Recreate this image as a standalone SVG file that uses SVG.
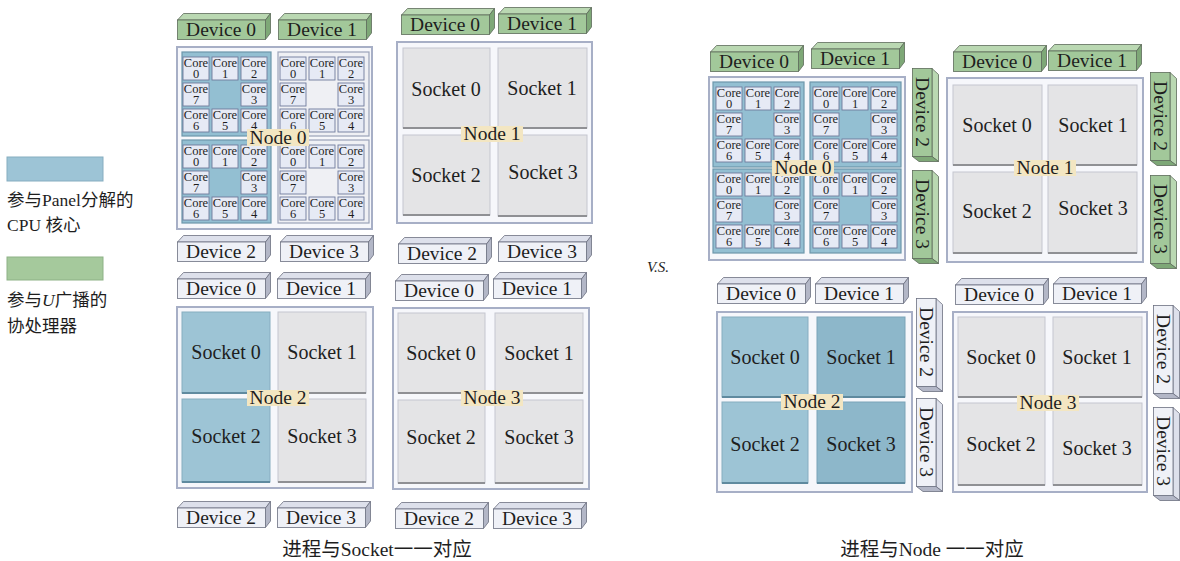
<svg xmlns="http://www.w3.org/2000/svg" width="1180" height="561" viewBox="0 0 1180 561" font-family="'Liberation Serif', 'Times New Roman', 'Noto Sans CJK SC', serif">
  <style>
    text { font-family: 'Liberation Serif', 'Times New Roman', 'Noto Sans CJK SC', serif; fill: #1e1e1e; }
    .dev { font-size: 19.5px; text-anchor: middle; }
    .sk { font-size: 20px; text-anchor: middle; }
    .lbl { font-size: 19.5px; text-anchor: middle; }
    .core { font-size: 12.5px; text-anchor: middle; }
    .cjk { font-size: 17.5px; }
    .cap { font-size: 19.5px; text-anchor: middle; }
    .node { fill: #f6f7fb; stroke: #a7afc6; stroke-width: 2; }
    .sg { fill: #e4e4e6; stroke: #c4c6cf; stroke-width: 1; }
    .sb { fill: #9dc4d5; stroke: #86adc0; stroke-width: 1; }
    .sbd { fill: #8db7ca; stroke: #7aa3b7; stroke-width: 1; }
    .edge-g { stroke: #8f9094; stroke-width: 2; fill: none; }
    .edge-b { stroke: #5f8a9f; stroke-width: 2; fill: none; }
    .cpub { fill: #93bfd2; stroke: #6d97ab; stroke-width: 1.2; }
    .cpuw { fill: #eff0f4; stroke: #9aa2b8; stroke-width: 1.2; }
    .cell { fill: #e6eaf5; stroke: #6f7a9c; stroke-width: 0.9; }
    .tag { fill: #f3e6c2; }
  </style>
  <defs>
    <!-- 3D device box, green -->
    <symbol id="devG" overflow="visible">
      <polygon points="0.5,7 6.5,0.5 93.5,0.5 88.5,7" fill="#bad8b2" stroke="#5d6b5a" stroke-width="0.8"/>
      <polygon points="88.5,7 93.5,0.5 93.5,20 88.5,26.5" fill="#7ea877" stroke="#5d6b5a" stroke-width="0.8"/>
      <rect x="0.5" y="7" width="88" height="19.5" fill="#a2c89a" stroke="#5d6b5a" stroke-width="0.8"/>
    </symbol>
    <!-- 3D device box, light grey -->
    <symbol id="devW" overflow="visible">
      <polygon points="0.5,7 6.5,0.5 93.5,0.5 88.5,7" fill="#dde0eb" stroke="#6c7080" stroke-width="0.8"/>
      <polygon points="88.5,7 93.5,0.5 93.5,20 88.5,26.5" fill="#b3b7c7" stroke="#6c7080" stroke-width="0.8"/>
      <rect x="0.5" y="7" width="88" height="19.5" fill="#eff1f7" stroke="#6c7080" stroke-width="0.8"/>
    </symbol>
    <!-- eight cores around an empty centre -->
    <symbol id="cores" overflow="visible">
      <rect class="cell" x="3" y="5" width="26" height="23"/>
      <rect class="cell" x="32" y="5" width="26" height="23"/>
      <rect class="cell" x="61" y="5" width="26" height="23"/>
      <rect class="cell" x="3" y="31" width="26" height="23"/>
      <rect class="cell" x="61" y="31" width="26" height="23"/>
      <rect class="cell" x="3" y="57" width="26" height="23"/>
      <rect class="cell" x="32" y="57" width="26" height="23"/>
      <rect class="cell" x="61" y="57" width="26" height="23"/>
      <text class="core" x="16" y="15">Core</text><text class="core" x="16" y="26">0</text>
      <text class="core" x="45" y="15">Core</text><text class="core" x="45" y="26">1</text>
      <text class="core" x="74" y="15">Core</text><text class="core" x="74" y="26">2</text>
      <text class="core" x="16" y="41">Core</text><text class="core" x="16" y="52">7</text>
      <text class="core" x="74" y="41">Core</text><text class="core" x="74" y="52">3</text>
      <text class="core" x="16" y="67">Core</text><text class="core" x="16" y="78">6</text>
      <text class="core" x="45" y="67">Core</text><text class="core" x="45" y="78">5</text>
      <text class="core" x="74" y="67">Core</text><text class="core" x="74" y="78">4</text>
    </symbol>
  </defs>

  <!-- legend -->
  <g id="legend">
    <rect x="7" y="157" width="96" height="24" fill="#9dc4d6" stroke="#86adc0"/>
    <text class="cjk" x="7" y="206">参与Panel分解的</text>
    <text class="cjk" x="7" y="231">CPU 核心</text>
    <rect x="7" y="257" width="96" height="23" fill="#a5c99c" stroke="#8db186"/>
    <text class="cjk" x="7" y="306">参与<tspan font-style="italic">U</tspan>广播的</text>
    <text class="cjk" x="7" y="332">协处理器</text>
  </g>

  <text x="658" y="272" font-size="15" font-style="italic" text-anchor="middle">V.S.</text>

  <!-- ===== left: one process per socket ===== -->
  <g id="L-node0">
    <use href="#devG" x="177" y="13"/><text class="dev" x="221" y="36">Device 0</text>
    <use href="#devG" x="278" y="13"/><text class="dev" x="322" y="36">Device 1</text>
    <rect class="node" x="177" y="47" width="195" height="182"/>
    <rect class="cpub" x="182" y="52" width="89" height="84"/>
    <rect class="cpuw" x="278" y="52" width="91" height="84"/>
    <rect class="cpub" x="182" y="140" width="89" height="83"/>
    <rect class="cpuw" x="278" y="140" width="91" height="83"/>
    <use href="#cores" x="180" y="52"/>
    <use href="#cores" x="277" y="52"/>
    <use href="#cores" x="180" y="140"/>
    <use href="#cores" x="277" y="140"/>
    <rect class="tag" x="247" y="129" width="62" height="17"/>
    <text class="lbl" x="278" y="144">Node 0</text>
    <use href="#devW" x="177" y="235"/><text class="dev" x="221" y="258">Device 2</text>
    <use href="#devW" x="280" y="235"/><text class="dev" x="324" y="258">Device 3</text>
  </g>

  <g id="L-node1">
    <use href="#devG" x="401" y="8"/><text class="dev" x="445" y="31">Device 0</text>
    <use href="#devG" x="498" y="7"/><text class="dev" x="542" y="30">Device 1</text>
    <rect class="node" x="397" y="42" width="195" height="181"/>
    <rect class="sg" x="403" y="48" width="87" height="80"/><path class="edge-g" d="M403,128H490"/>
    <rect class="sg" x="498" y="48" width="89" height="80"/><path class="edge-g" d="M498,128H587"/>
    <rect class="sg" x="403" y="135" width="87" height="80"/><path class="edge-g" d="M403,215H490"/>
    <rect class="sg" x="498" y="135" width="89" height="81"/><path class="edge-g" d="M498,216H587"/>
    <text class="sk" x="446" y="96">Socket 0</text>
    <text class="sk" x="542" y="95">Socket 1</text>
    <text class="sk" x="446" y="182">Socket 2</text>
    <text class="sk" x="543" y="179">Socket 3</text>
    <rect class="tag" x="461" y="126" width="62" height="16"/>
    <text class="lbl" x="492" y="140">Node 1</text>
    <use href="#devW" x="398" y="237"/><text class="dev" x="442" y="260">Device 2</text>
    <use href="#devW" x="498" y="235"/><text class="dev" x="542" y="258">Device 3</text>
  </g>

  <g id="L-node2">
    <use href="#devW" x="177" y="272"/><text class="dev" x="221" y="295">Device 0</text>
    <use href="#devW" x="277" y="272"/><text class="dev" x="321" y="295">Device 1</text>
    <rect class="node" x="177" y="307" width="196" height="181"/>
    <rect class="sb" x="182" y="312" width="88" height="81"/><path class="edge-b" d="M182,393H270"/>
    <rect class="sg" x="278" y="312" width="88" height="81"/><path class="edge-g" d="M278,393H366"/>
    <rect class="sb" x="182" y="399" width="88" height="83"/><path class="edge-b" d="M182,482H270"/>
    <rect class="sg" x="278" y="399" width="88" height="83"/><path class="edge-g" d="M278,482H366"/>
    <text class="sk" x="226" y="359">Socket 0</text>
    <text class="sk" x="322" y="359">Socket 1</text>
    <text class="sk" x="226" y="443">Socket 2</text>
    <text class="sk" x="322" y="443">Socket 3</text>
    <rect class="tag" x="247" y="390" width="62" height="16"/>
    <text class="lbl" x="278" y="404">Node 2</text>
    <use href="#devW" x="177" y="501"/><text class="dev" x="221" y="524">Device 2</text>
    <use href="#devW" x="277" y="501"/><text class="dev" x="321" y="524">Device 3</text>
  </g>

  <g id="L-node3">
    <use href="#devW" x="395" y="274"/><text class="dev" x="439" y="297">Device 0</text>
    <use href="#devW" x="493" y="272"/><text class="dev" x="537" y="295">Device 1</text>
    <rect class="node" x="393" y="308" width="196" height="181"/>
    <rect class="sg" x="398" y="313" width="87" height="80"/><path class="edge-g" d="M398,393H485"/>
    <rect class="sg" x="495" y="313" width="88" height="80"/><path class="edge-g" d="M495,393H583"/>
    <rect class="sg" x="398" y="400" width="87" height="83"/><path class="edge-g" d="M398,483H485"/>
    <rect class="sg" x="495" y="400" width="88" height="83"/><path class="edge-g" d="M495,483H583"/>
    <text class="sk" x="441" y="360">Socket 0</text>
    <text class="sk" x="539" y="360">Socket 1</text>
    <text class="sk" x="441" y="444">Socket 2</text>
    <text class="sk" x="539" y="444">Socket 3</text>
    <rect class="tag" x="461" y="390" width="62" height="16"/>
    <text class="lbl" x="492" y="404">Node 3</text>
    <use href="#devW" x="395" y="502"/><text class="dev" x="439" y="525">Device 2</text>
    <use href="#devW" x="493" y="502"/><text class="dev" x="537" y="525">Device 3</text>
  </g>

  <text class="cap" x="377" y="556">进程与Socket一一对应</text>

  <!-- ===== right: one process per node ===== -->
  <g id="R-node0">
    <use href="#devG" x="710" y="45"/><text class="dev" x="754" y="68">Device 0</text>
    <use href="#devG" x="811" y="42"/><text class="dev" x="855" y="65">Device 1</text>
    <rect class="node" x="709" y="77" width="196" height="183"/>
    <rect class="cpub" x="713" y="82" width="91" height="85"/>
    <rect class="cpub" x="810" y="82" width="91" height="85"/>
    <rect class="cpub" x="713" y="169" width="91" height="84"/>
    <rect class="cpub" x="810" y="169" width="91" height="84"/>
    <use href="#cores" x="713" y="82"/>
    <use href="#cores" x="810" y="82"/>
    <use href="#cores" x="713" y="168"/>
    <use href="#cores" x="810" y="168"/>
    <rect class="tag" x="772" y="160" width="62" height="16"/>
    <text class="lbl" x="803" y="174">Node 0</text>
    <use href="#devG" transform="translate(939,68) rotate(90)"/>
    <text class="dev" transform="translate(939,68) rotate(90)" x="44" y="23">Device 2</text>
    <use href="#devG" transform="translate(939,170) rotate(90)"/>
    <text class="dev" transform="translate(939,170) rotate(90)" x="44" y="23">Device 3</text>
  </g>

  <g id="R-node1">
    <use href="#devG" x="953" y="45"/><text class="dev" x="997" y="68">Device 0</text>
    <use href="#devG" x="1048" y="44"/><text class="dev" x="1092" y="67">Device 1</text>
    <rect class="node" x="947" y="78" width="196" height="184"/>
    <rect class="sg" x="953" y="85" width="89" height="80"/><path class="edge-g" d="M953,165H1042"/>
    <rect class="sg" x="1048" y="85" width="89" height="80"/><path class="edge-g" d="M1048,165H1137"/>
    <rect class="sg" x="953" y="172" width="89" height="81"/><path class="edge-g" d="M953,253H1042"/>
    <rect class="sg" x="1048" y="172" width="89" height="81"/><path class="edge-g" d="M1048,253H1137"/>
    <text class="sk" x="997" y="132">Socket 0</text>
    <text class="sk" x="1093" y="132">Socket 1</text>
    <text class="sk" x="997" y="218">Socket 2</text>
    <text class="sk" x="1093" y="215">Socket 3</text>
    <rect class="tag" x="1014" y="160" width="62" height="16"/>
    <text class="lbl" x="1045" y="174">Node 1</text>
    <use href="#devG" transform="translate(1177,72) rotate(90)"/>
    <text class="dev" transform="translate(1177,72) rotate(90)" x="44" y="23">Device 2</text>
    <use href="#devG" transform="translate(1177,175) rotate(90)"/>
    <text class="dev" transform="translate(1177,175) rotate(90)" x="44" y="23">Device 3</text>
  </g>

  <g id="R-node2">
    <use href="#devW" x="717" y="277"/><text class="dev" x="761" y="300">Device 0</text>
    <use href="#devW" x="815" y="277"/><text class="dev" x="859" y="300">Device 1</text>
    <rect class="node" x="717" y="312" width="195" height="180"/>
    <rect class="sb" x="722" y="317" width="86" height="80"/><path class="edge-b" d="M722,397H808"/>
    <rect class="sbd" x="817" y="317" width="88" height="80"/><path class="edge-b" d="M817,397H905"/>
    <rect class="sb" x="722" y="402" width="86" height="81"/><path class="edge-b" d="M722,483H808"/>
    <rect class="sbd" x="817" y="402" width="88" height="81"/><path class="edge-b" d="M817,483H905"/>
    <text class="sk" x="765" y="364">Socket 0</text>
    <text class="sk" x="861" y="364">Socket 1</text>
    <text class="sk" x="765" y="451">Socket 2</text>
    <text class="sk" x="861" y="451">Socket 3</text>
    <rect class="tag" x="781" y="394" width="62" height="16"/>
    <text class="lbl" x="812" y="408">Node 2</text>
    <use href="#devW" transform="translate(943,298) rotate(90)"/>
    <text class="dev" transform="translate(943,298) rotate(90)" x="44" y="23">Device 2</text>
    <use href="#devW" transform="translate(943,398) rotate(90)"/>
    <text class="dev" transform="translate(943,398) rotate(90)" x="44" y="23">Device 3</text>
  </g>

  <g id="R-node3">
    <use href="#devW" x="955" y="278"/><text class="dev" x="999" y="301">Device 0</text>
    <use href="#devW" x="1053" y="277"/><text class="dev" x="1097" y="300">Device 1</text>
    <rect class="node" x="953" y="312" width="194" height="180"/>
    <rect class="sg" x="958" y="317" width="87" height="80"/><path class="edge-g" d="M958,397H1045"/>
    <rect class="sg" x="1053" y="317" width="89" height="80"/><path class="edge-g" d="M1053,397H1142"/>
    <rect class="sg" x="958" y="403" width="87" height="82"/><path class="edge-g" d="M958,485H1045"/>
    <rect class="sg" x="1053" y="403" width="89" height="82"/><path class="edge-g" d="M1053,485H1142"/>
    <text class="sk" x="1001" y="364">Socket 0</text>
    <text class="sk" x="1097" y="364">Socket 1</text>
    <text class="sk" x="1001" y="451">Socket 2</text>
    <text class="sk" x="1097" y="455">Socket 3</text>
    <rect class="tag" x="1017" y="395" width="62" height="16"/>
    <text class="lbl" x="1048" y="409">Node 3</text>
    <use href="#devW" transform="translate(1180,305) rotate(90)"/>
    <text class="dev" transform="translate(1180,305) rotate(90)" x="44" y="23">Device 2</text>
    <use href="#devW" transform="translate(1180,407) rotate(90)"/>
    <text class="dev" transform="translate(1180,407) rotate(90)" x="44" y="23">Device 3</text>
  </g>

  <text class="cap" x="932" y="556">进程与Node 一一对应</text>
</svg>
